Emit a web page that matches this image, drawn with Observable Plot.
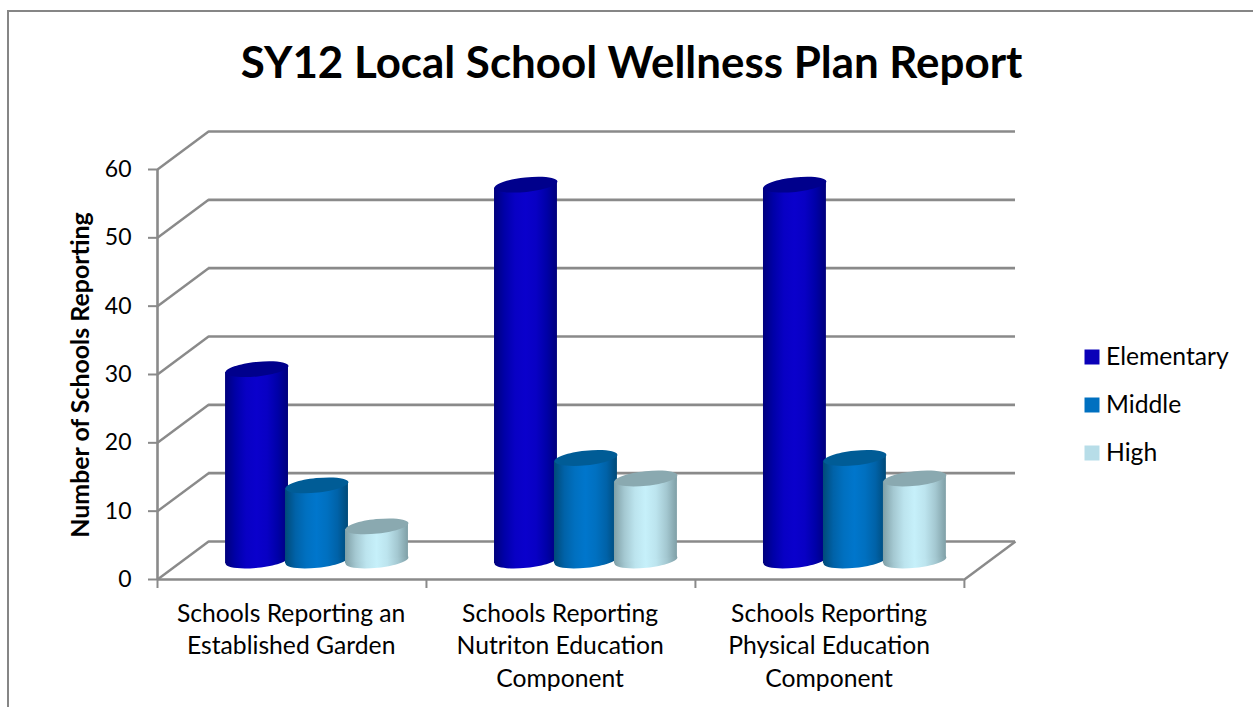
<!DOCTYPE html>
<html>
<head>
<meta charset="utf-8">
<script src="https://cdn.jsdelivr.net/npm/d3@7"></script>
<script src="https://cdn.jsdelivr.net/npm/@observablehq/plot@0.6"></script>
<style>
html,body{margin:0;padding:0;background:#fff;overflow:hidden;width:1253px;height:707px}
#chart{position:absolute;left:0;top:0}
#border{position:absolute;left:7px;top:10px;width:1400px;height:800px;border:2px solid #868686;box-sizing:border-box}
</style>
</head>
<body>
<div id="border"></div>
<div id="chart"></div>
<script>
const chartTitle = "SY12 Local School Wellness Plan Report";
const yTitle = "Number of Schools Reporting";
const categories = ["Schools Reporting an\nEstablished Garden", "Schools Reporting\nNutriton Education\nComponent", "Schools Reporting\nPhysical Education\nComponent"];
const seriesNames = ["Elementary", "Middle", "High"];
const elementary = [28, 55, 55];
const middle = [11, 15, 15];
const high = [5, 12, 12];
const yTicks = [0, 10, 20, 30, 40, 50, 60];
const seriesValues = [elementary, middle, high];

// styling and projection settings
const legendColors = ["#0a00b8", "#0070c0", "#b7dde8"];
const capColors = ["#00008c", "#005c96", "#8aa9b0"];
const sideStops = [
  ["#00007c", "#0000a8", "#0800c4", "#0a00cc", "#0800c4", "#0000a8", "#00007c"],
  ["#004a78", "#0062a8", "#0070c0", "#0076cc", "#0070c0", "#0062a8", "#004a78"],
  ["#7f9fa6", "#a4c8d1", "#bce4ee", "#c6f0fa", "#bce4ee", "#a4c8d1", "#7f9fa6"]
];
const depthX = 0.19, depthY = 5.56;        // depth of the floor in data units
const seriesOffset = [0.37, 0.593, 0.816]; // centre of each cylinder in a category
const halfWidth = 0.117, tilt = 0.48;
const tiltAngle = -6 * Math.PI / 180;

const ellipse = {
  draw(ctx, size) {
    const rx = Math.sqrt(size / Math.PI), ry = rx * 0.23, k = 0.5523;
    const c = Math.cos(tiltAngle), s = Math.sin(tiltAngle);
    const P = (x, y) => [x * c - y * s, x * s + y * c];
    const pts = [
      [[rx, k * ry], [k * rx, ry], [0, ry]],
      [[-k * rx, ry], [-rx, k * ry], [-rx, 0]],
      [[-rx, -k * ry], [-k * rx, -ry], [0, -ry]],
      [[k * rx, -ry], [rx, -k * ry], [rx, 0]]
    ];
    ctx.moveTo(...P(rx, 0));
    for (const [a, b, d] of pts) ctx.bezierCurveTo(...P(...a), ...P(...b), ...P(...d));
    ctx.closePath();
  }
};

const marks = [];
// back wall, side wall and floor edge
marks.push(Plot.ruleY(yTicks.map(v => v + depthY), {x1: depthX, x2: 3 + depthX, stroke: "#8a8a8a", strokeWidth: 2.6}));
marks.push(Plot.link(yTicks, {x1: () => 0, x2: () => depthX, y1: d => d, y2: d => d + depthY, stroke: "#8a8a8a", strokeWidth: 2.4}));
marks.push(Plot.link([0], {x1: () => 3, x2: () => 3 + depthX, y1: d => d, y2: d => d + depthY, stroke: "#8a8a8a", strokeWidth: 2.4}));
// axes
marks.push(Plot.ruleX([0], {y1: 0, y2: 60, stroke: "#8a8a8a", strokeWidth: 2.6}));
marks.push(Plot.ruleY([0], {x1: 0, x2: 3, stroke: "#8a8a8a", strokeWidth: 2.6}));
marks.push(Plot.axisY({ticks: yTicks, anchor: "left", label: null, tickSize: 9, tickPadding: 17, stroke: "#8a8a8a", strokeWidth: 2, fill: "#000", fontSize: 23}));
marks.push(Plot.axisX({ticks: [0, 1, 2, 3], anchor: "bottom", label: null, tickSize: 9, tickFormat: () => "", stroke: "#8a8a8a", strokeWidth: 2}));
marks.push(Plot.text(categories, {x: (d, i) => i + 0.5 - 0.003, y: () => 0, text: d => d, lineAnchor: "top", dy: 19, fontSize: 24.7, lineHeight: 1.316, fill: "#000"}));
// cylinders
seriesNames.forEach((name, s) => {
  const vals = seriesValues[s];
  const fill = `url(#cyl${s})`;
  const rows = vals.map((v, c) => ({v, c, x: c + seriesOffset[s]}));
  const base = depthY / 2;
  const body = rows.flatMap(r => [
    {k: r.c, x: r.x - halfWidth, y1: base - tilt, y2: r.v + base - tilt},
    {k: r.c, x: r.x + halfWidth, y1: base + tilt, y2: r.v + base + tilt}
  ]);
  marks.push(Plot.dot(rows, {x: "x", y: () => base, r: 31.6, symbol: ellipse, fill, stroke: "none"}));
  marks.push(Plot.areaY(body, {x: "x", y1: "y1", y2: "y2", z: "k", fill, stroke: "none", curve: "linear"}));
  marks.push(Plot.dot(rows, {x: "x", y: r => r.v + base, r: 31.6, symbol: ellipse, fill: capColors[s], stroke: "none"}));
});
// y title, chart title, legend
marks.push(Plot.text([yTitle], {frameAnchor: "left", textAnchor: "middle", rotate: -90, dx: -76, dy: 19.5, fontSize: 24.9, fontWeight: 700, fill: "#000"}));
marks.push(Plot.text([chartTitle], {frameAnchor: "top", dx: 45, dy: -85, fontSize: 43.9, fontWeight: 700, fill: "#000"}));
seriesNames.forEach((name, s) => {
  const dy = (s - 1) * 48 + 49.5;
  marks.push(Plot.dot([name], {frameAnchor: "right", dx: 76.5, dy, r: 8.46, symbol: "square", fill: legendColors[s], stroke: "none"}));
  marks.push(Plot.text([name], {frameAnchor: "right", textAnchor: "start", dx: 90.5, dy, fontSize: 24.7, fill: "#000"}));
});

const plot = Plot.plot({
  width: 1253, height: 707,
  marginLeft: 157, marginRight: 238, marginTop: 131, marginBottom: 128,
  style: {fontFamily: "Lato", background: "transparent", overflow: "visible"},
  x: {type: "linear", domain: [0, 3 + depthX], axis: null},
  y: {type: "linear", domain: [0, 60 + depthY], axis: null},
  marks
});
const defs = d3.select(plot).insert("defs", ":first-child");
sideStops.forEach((stops, s) => {
  const g = defs.append("linearGradient").attr("id", `cyl${s}`).attr("x1", 0).attr("x2", 1).attr("y1", 0).attr("y2", 0);
  stops.forEach((col, i) => g.append("stop").attr("offset", i / (stops.length - 1)).attr("stop-color", col));
});
document.getElementById("chart").append(plot);
</script>
</body>
</html>
